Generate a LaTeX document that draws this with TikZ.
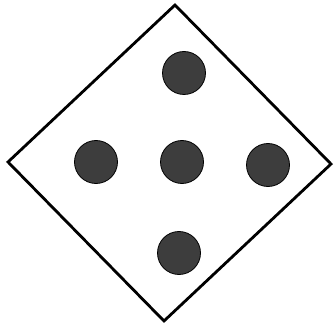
\documentclass[tikz,border=0pt]{standalone}
\usepackage{tikz}
\usetikzlibrary{
    positioning,
    calc
}
\tikzset{
    dot/.style={
        circle,
        draw=black,
        line width=0.8pt,
        fill=black!76,
        minimum size=43pt,
        inner sep=0pt
    },
    rim/.style={
        line width=2.8pt,
        line join=miter,
        draw=black
    }
}

\begin{document}
\begin{tikzpicture}[x=1pt,y=-1pt]
\useasboundingbox (0,0) rectangle (335,326);
\coordinate (top) at (175,5);
\coordinate (lft) at (8,162);
\coordinate (bot) at (164,321);
\coordinate (rgt) at (331,164);
\draw[rim] (top) -- (rgt) -- (bot) -- (lft) -- cycle;
\node[dot] (dtop) at (184,73) {};
\node[dot] (dlft) at (96,162) {};
\node[dot] (dmid) at (182,162) {};
\node[dot] (drgt) at (268,165) {};
\node[dot] (dbot) at (179,253) {};
\end{tikzpicture}
\end{document}
